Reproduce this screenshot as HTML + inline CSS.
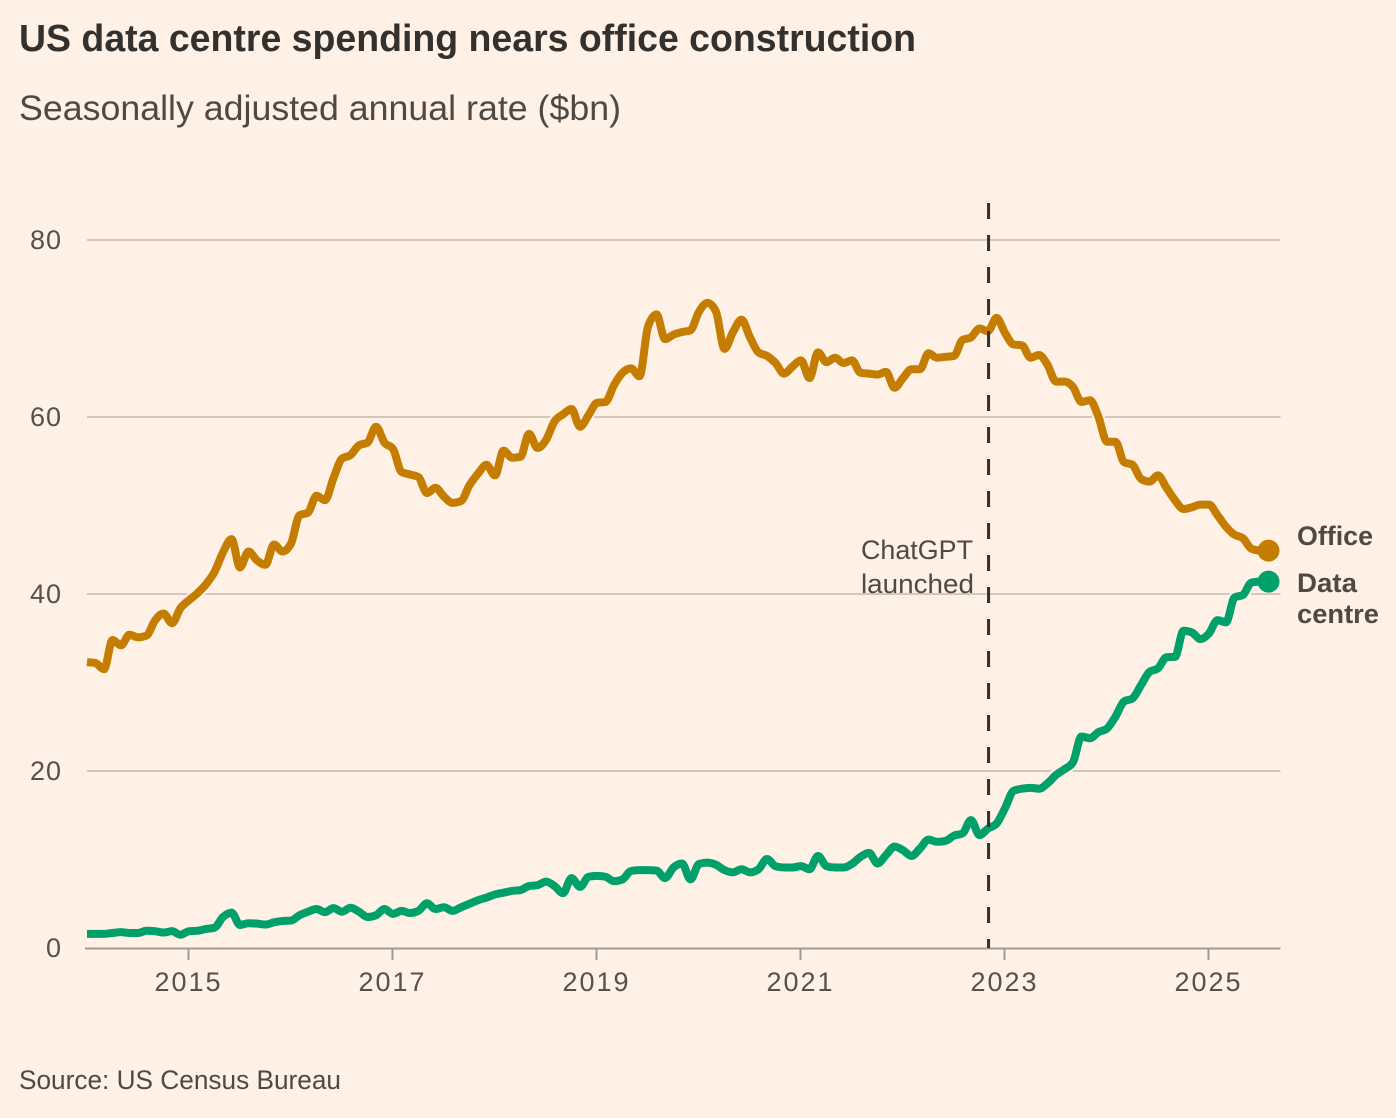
<!DOCTYPE html>
<html lang="en">
<head>
<meta charset="utf-8">
<title>US data centre spending nears office construction</title>
<style>
  html, body { margin: 0; padding: 0; background: #fff1e5; }
  svg { display: block; font-family: "Liberation Sans", sans-serif; }
</style>
</head>
<body>
<svg id="chart" xmlns="http://www.w3.org/2000/svg" width="1396" height="1118" viewBox="0 0 1396 1118">
  <rect x="0" y="0" width="1396" height="1118" fill="#fff1e5"/>
  <text x="19" y="51" font-size="38" font-weight="700" fill="#33302e" textLength="897" lengthAdjust="spacingAndGlyphs">US data centre spending nears office construction</text>
  <text x="19" y="120" font-size="35" fill="#4f4946" textLength="602" lengthAdjust="spacingAndGlyphs">Seasonally adjusted annual rate ($bn)</text>
  <g id="grid"></g>
  <g id="y-labels"></g>
  <g id="x-axis"></g>
  <g id="series"></g>
  <g id="annotation"></g>
  <text x="861" y="559" font-size="27" fill="#4f4946" textLength="112" lengthAdjust="spacingAndGlyphs">ChatGPT</text>
  <text x="861" y="593" font-size="27" fill="#4f4946" textLength="113" lengthAdjust="spacingAndGlyphs">launched</text>
  <text x="1297" y="545" font-size="27" font-weight="700" fill="#4f4946" textLength="76" lengthAdjust="spacingAndGlyphs">Office</text>
  <text x="1297" y="592" font-size="27" font-weight="700" fill="#4f4946" textLength="60" lengthAdjust="spacingAndGlyphs">Data</text>
  <text x="1297" y="623" font-size="27" font-weight="700" fill="#4f4946" textLength="82" lengthAdjust="spacingAndGlyphs">centre</text>
  <text x="19" y="1089" font-size="27" fill="#4f4946" textLength="322" lengthAdjust="spacingAndGlyphs">Source: US Census Bureau</text>
</svg>
<script>
const office = [
  32.3,32.2,31.5,34.8,34.2,35.4,35.1,35.3,37.0,37.8,36.7,38.4,
  39.3,40.1,41.1,42.5,44.7,46.2,43.0,44.8,43.8,43.3,45.6,44.8,
  45.7,48.9,49.2,51.1,50.6,53.1,55.3,55.7,56.8,57.1,58.9,57.1,
  56.4,53.8,53.5,53.2,51.4,52.0,51.0,50.3,50.5,52.3,53.6,54.6,
  53.4,56.2,55.4,55.5,58.1,56.5,57.4,59.5,60.3,60.9,58.9,60.2,
  61.6,61.7,63.6,65.0,65.5,64.6,70.2,71.6,68.8,69.3,69.6,69.8,
  71.9,72.9,71.9,67.7,69.6,71.0,69.0,67.3,66.9,66.1,64.9,65.7,
  66.4,64.4,67.3,66.2,66.7,66.1,66.4,65.0,64.9,64.8,65.1,63.3,
  64.4,65.4,65.4,67.2,66.7,66.8,66.9,68.7,69.0,70.0,69.7,71.2,
  69.5,68.2,68.1,66.7,67.0,65.9,64.0,64.0,63.4,61.7,61.9,60.0,
  57.2,57.2,54.9,54.6,53.0,52.7,53.4,52.0,50.6,49.6,49.8,50.1,
  50.1,48.9,47.6,46.7,46.3,45.1,44.9,44.9
];
const dataCentre = [
  1.6,1.6,1.6,1.7,1.8,1.7,1.7,1.95,1.9,1.75,1.9,1.5,
  1.9,1.95,2.15,2.3,3.5,4.0,2.6,2.8,2.75,2.65,2.9,3.05,
  3.1,3.7,4.1,4.4,4.05,4.5,4.1,4.55,4.1,3.5,3.7,4.4,
  3.85,4.2,3.95,4.2,5.05,4.4,4.6,4.2,4.6,5.0,5.4,5.7,
  6.05,6.25,6.45,6.55,7.0,7.1,7.5,7.0,6.2,7.9,6.9,8.05,
  8.15,8.05,7.55,7.75,8.7,8.8,8.8,8.75,7.9,9.1,9.55,7.75,
  9.5,9.65,9.4,8.8,8.55,8.9,8.55,8.9,10.05,9.25,9.1,9.1,
  9.25,8.9,10.4,9.25,9.1,9.1,9.5,10.3,10.75,9.55,10.5,11.45,
  11.05,10.4,11.25,12.25,12.0,12.1,12.7,12.95,14.45,12.75,13.5,14.05,
  15.8,17.75,18.0,18.1,18.0,18.6,19.55,20.2,21.0,23.9,23.7,24.4,
  24.8,26.15,27.85,28.2,29.7,31.2,31.6,32.85,32.9,35.85,35.65,34.9,
  35.55,37.05,36.8,39.6,39.9,41.3,41.4,41.4
];
const yTicks = [0, 20, 40, 60, 80];
const xTickYears = [2015, 2017, 2019, 2021, 2023, 2025];
const annotationDates = [2022.83];

const SVG_NS = 'http://www.w3.org/2000/svg';
const startYear = 2014;
const plotLeft = 87;
const plotRight = 1280.5;
const plotBottom = 948;
const pxPerYear = 102;
const pxPerUnit = 8.85;

function xScale(year) { return plotLeft + (year - startYear) * pxPerYear; }
function yScale(value) { return plotBottom - value * pxPerUnit; }
function monthToYear(i) { return startYear + i / 12; }

function make(tag, attrs) {
  const el = document.createElementNS(SVG_NS, tag);
  for (const k in attrs) el.setAttribute(k, attrs[k]);
  return el;
}

function sign(v) { return v < 0 ? -1 : 1; }

// Monotone cubic interpolation through the monthly points
function monotonePath(values) {
  const pts = values.map((v, i) => [xScale(monthToYear(i)), yScale(v)]);
  const n = pts.length;
  const slopes = [];
  for (let i = 0; i < n - 1; i++) {
    slopes.push((pts[i + 1][1] - pts[i][1]) / (pts[i + 1][0] - pts[i][0]));
  }
  const tangents = [slopes[0]];
  for (let i = 1; i < n - 1; i++) {
    const a = slopes[i - 1], b = slopes[i];
    const m = (a + b) / 2;
    tangents.push((sign(a) + sign(b)) * Math.min(Math.abs(a), Math.abs(b), 0.5 * Math.abs(m)));
  }
  tangents.push(slopes[n - 2]);
  let d = 'M' + pts[0][0].toFixed(2) + ',' + pts[0][1].toFixed(2);
  for (let i = 0; i < n - 1; i++) {
    const h = (pts[i + 1][0] - pts[i][0]) / 3;
    d += 'C' + (pts[i][0] + h).toFixed(2) + ',' + (pts[i][1] + tangents[i] * h).toFixed(2) +
         ' ' + (pts[i + 1][0] - h).toFixed(2) + ',' + (pts[i + 1][1] - tangents[i + 1] * h).toFixed(2) +
         ' ' + pts[i + 1][0].toFixed(2) + ',' + pts[i + 1][1].toFixed(2);
  }
  return d;
}

// Gridlines and y labels
const gridGroup = document.getElementById('grid');
const yLabelGroup = document.getElementById('y-labels');
yTicks.forEach(function (value) {
  if (value !== 0) {
    const line = make('line', { x1: plotLeft, x2: plotRight, y1: yScale(value), y2: yScale(value), stroke: '#d3c8bd', 'stroke-width': 2 });
    
    
    gridGroup.appendChild(line);
  }
  const label = make('text', { x: 62, y: yScale(value) + 9, 'text-anchor': 'end', 'font-size': 27, 'letter-spacing': 1, fill: '#57504c' });
  label.textContent = String(value);
  
  
  yLabelGroup.appendChild(label);
});

// X axis
const xAxisGroup = document.getElementById('x-axis');
const baseline = make('line', { x1: 85, x2: plotRight, y1: plotBottom + 0.5, y2: plotBottom + 0.5, stroke: '#a39b93', 'stroke-width': 2 });


xAxisGroup.appendChild(baseline);
xTickYears.forEach(function (year) {
  const px = xScale(year) - 0.5;
  const tick = make('line', { x1: px, x2: px, y1: plotBottom, y2: 960, stroke: '#a39b93', 'stroke-width': 2 });
  
  
  xAxisGroup.appendChild(tick);
  const label = make('text', { x: px, y: 991, 'text-anchor': 'middle', 'font-size': 27, 'letter-spacing': 2, fill: '#57504c' });
  label.textContent = String(year);
  
  
  xAxisGroup.appendChild(label);
});

// Series
const seriesGroup = document.getElementById('series');
function drawSeries(values, colour, name) {
  const d = monotonePath(values);
  const halo = make('path', { d: d, fill: 'none', stroke: '#fff1e5', 'stroke-width': 12, 'stroke-linejoin': 'round' });
  
  
  seriesGroup.appendChild(halo);
  const line = make('path', { d: d, fill: 'none', stroke: colour, 'stroke-width': 8, 'stroke-linejoin': 'round' });
  
  
  seriesGroup.appendChild(line);
  const last = values.length - 1;
  const dot = make('circle', { cx: xScale(monthToYear(last)), cy: yScale(values[last]), r: 11, fill: colour });
  
  
  seriesGroup.appendChild(dot);
}
drawSeries(office, '#c47d00', 'office');
drawSeries(dataCentre, '#00a06b', 'data-centre');

// ChatGPT launch marker
const annotationGroup = document.getElementById('annotation');
annotationDates.forEach(function (date) {
  const px = xScale(date) + 0.9;
  const rule = make('line', { x1: px, x2: px, y1: 203, y2: plotBottom, stroke: '#33302e', 'stroke-width': 3, 'stroke-dasharray': '16 16' });
  
  
  annotationGroup.appendChild(rule);
});
</script>
</body>
</html>
